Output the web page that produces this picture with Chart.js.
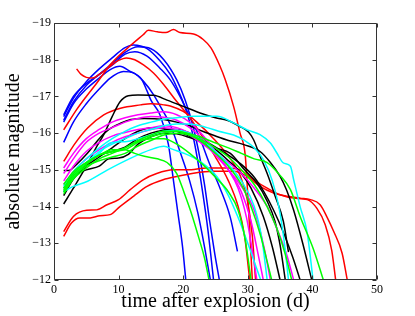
<!DOCTYPE html>
<html>
<head>
<meta charset="utf-8">
<script src="https://cdn.jsdelivr.net/npm/chart.js"></script>
<style>
    html, body { margin: 0; padding: 0; background: #ffffff; }
    #wrap { width: 415px; height: 316px; }
</style>
</head>
<body>
<div id="wrap"><canvas id="lightCurves" width="415" height="316"></canvas></div>
<script>
// light curves, each point is [days after explosion, absolute magnitude]
const blue1 = [[1.5,-16.45],[3,-16.95],[5,-17.4],[7,-17.75],[9,-18.05],[11,-18.33],[12.3,-18.4],[14.4,-18.3],[16.4,-17.97],[18,-17.6],[19,-17.25],[20.3,-16.7],[21.3,-16.1],[22.2,-15.3],[23,-14.4],[23.8,-13.4],[24.7,-12.0]];
const blue2 = [[1.5,-16.5],[3,-17.0],[5,-17.35],[7,-17.6],[9,-17.9],[11,-18.2],[13,-18.35],[15,-18.3],[17,-18.0],[19,-17.45],[20.3,-16.9],[21.5,-16.2],[22.5,-15.4],[23.3,-14.6],[24.1,-13.6],[24.9,-12.7],[25.6,-12.0]];
const blue3 = [[1.5,-16.35],[3,-16.85],[5,-17.3],[7,-17.6],[9,-17.85],[11,-18.15],[12.5,-18.22],[14.4,-18.1],[16.4,-17.77],[18,-17.45],[19.5,-17.0],[21,-16.45],[22.5,-15.9],[24,-15.2],[25.7,-14.5],[27.3,-13.7],[28.4,-12.78]];
const blue4 = [[1.5,-16.3],[3,-16.8],[5,-17.2],[7,-17.5],[8.7,-17.73],[10.2,-17.82],[11.8,-17.68],[12.8,-17.59],[13.6,-17.46],[14.4,-17.15],[15,-16.9],[16.4,-16.5],[17.7,-15.7],[18.5,-14.7],[19.2,-13.8],[19.9,-12.9],[20.4,-12.0]];
const blue5 = [[1.5,-15.75],[3,-16.3],[5,-16.8],[7,-17.2],[8.7,-17.5],[10.75,-17.68],[12.3,-17.64],[13.85,-17.41],[15.4,-17.05],[16.9,-16.59],[18,-16.23],[19.5,-15.5],[21,-14.7],[22.3,-13.8],[23.3,-12.9],[24.2,-12.0]];

const red1 = [[1.5,-16.09],[3.5,-16.64],[5,-17.0],[6.6,-17.36],[8.7,-17.86],[10,-18.1],[11.8,-18.38],[13.8,-18.68],[14.6,-18.8],[16,-18.76],[17.3,-18.74],[18.5,-18.82],[19.5,-18.74],[21.6,-18.7],[23.1,-18.55],[24.3,-18.32],[25.7,-17.82],[26.5,-17.46],[27.8,-16.73],[28.8,-16.0],[29.6,-15.4],[30.0,-14.3],[30.4,-13.0],[30.7,-12.0]];
const red2 = [[3.5,-17.75],[4.2,-17.6],[5,-17.52],[6,-17.5],[7,-17.6],[8.5,-17.8],[10,-17.98],[11.2,-18.05],[12.5,-18.0],[13.85,-17.86],[15.4,-17.64],[17,-17.32],[19,-16.86],[21.1,-16.41],[23,-15.9],[25,-15.35],[27,-14.7],[28.5,-14.0],[29.5,-13.2],[30.3,-12.0]];
const red3 = [[1.5,-15.23],[3.1,-15.68],[5.2,-16.14],[7.7,-16.5],[10.3,-16.68],[13.4,-16.77],[15,-16.8],[17,-16.77],[18,-16.74],[20,-16.59],[22.1,-16.3],[24.7,-15.85],[27.3,-15.3],[28.8,-14.85],[29.9,-14.2],[30.7,-13.2],[31.2,-12.0]];
const red4 = [[1.5,-13.32],[3,-13.73],[5.06,-13.9],[6.6,-13.91],[8.2,-14.05],[10,-14.19],[11.8,-14.46],[13.8,-14.73],[15.9,-14.9],[18.5,-15.0],[20.6,-15.0],[23.7,-15.05],[26.8,-15.05],[28.8,-15.0],[30.9,-14.73],[33,-14.5],[35,-14.32],[37.1,-14.23],[39.2,-14.19],[40.7,-13.95],[42,-13.5],[43,-12.8],[43.6,-12.0]];
const red5 = [[1.5,-13.19],[2.7,-13.55],[4,-13.69],[5.6,-13.69],[7.1,-13.75],[8.7,-13.78],[10.2,-14.0],[12.3,-14.28],[14.4,-14.55],[16.9,-14.73],[19,-14.82],[21.6,-14.91],[24.7,-14.96],[27.8,-14.96],[29.9,-14.82],[31.9,-14.55],[34,-14.37],[36.1,-14.28],[38.1,-14.23],[39.7,-14.19],[41.2,-14.05],[42.3,-13.7],[43.3,-13.32],[44.6,-12.73],[45.4,-12.0]];

const black1 = [[1.5,-14.07],[3,-14.5],[5,-15.1],[6.5,-15.6],[7.7,-15.96],[9,-16.45],[10.2,-16.85],[11.5,-17.02],[13,-17.04],[15.4,-17.03],[17.5,-16.9],[20,-16.73],[22.6,-16.55],[25,-16.42],[26.8,-16.35],[28.8,-16.18],[30.1,-16.03],[30.9,-15.82],[31.9,-15.37],[33,-14.9],[34.2,-14.3],[35.5,-13.6],[36.3,-12.76]];
const black2 = [[1.5,-14.98],[2.3,-14.98],[3.5,-15.15],[5.2,-15.46],[7,-15.85],[8.5,-16.1],[10.3,-16.27],[11.9,-16.37],[14,-16.4],[17,-16.37],[19,-16.3],[21,-16.2],[23,-16.05],[25,-15.92],[27,-15.8],[29.5,-15.68],[31.9,-15.5],[33.5,-15.2],[35,-14.82],[36,-14.45],[37.1,-13.9],[38.5,-13.0],[39.9,-12.0]];
const black3 = [[1.5,-14.3],[3,-14.75],[5,-15.1],[7,-15.35],[9,-15.6],[11,-15.85],[13,-16.05],[15,-16.15],[17,-16.12],[19,-16.05],[21,-15.92],[23,-15.75],[25,-15.55],[27,-15.25],[29,-14.9],[30.5,-14.5],[32.4,-13.73],[33.8,-12.9],[35,-12.0]];
const black4 = [[1.5,-14.4],[3,-14.8],[5,-15.15],[7,-15.4],[9,-15.5],[11,-15.62],[13,-15.85],[15,-16.0],[17,-16.08],[19,-16.1],[21,-16.0],[23,-15.82],[25,-15.62],[27,-15.4],[29,-15.15],[31,-14.8],[32.5,-14.4],[34,-13.9],[35.5,-13.3],[37,-12.6],[38.1,-12.0]];
const black5 = [[1.5,-14.5],[3,-14.85],[5,-15.0],[7,-15.1],[8.5,-15.3],[10,-15.32],[11.5,-15.42],[13,-15.7],[15,-15.9],[17,-16.0],[19,-15.98],[21,-15.88],[23,-15.75],[25,-15.6],[27.3,-15.45],[29.5,-15.0],[31.4,-14.64],[33,-14.15],[34.2,-13.6],[35,-12.95],[35.8,-12.0]];

const magenta1 = [[1.5,-15.05],[3,-15.45],[5,-15.85],[7,-16.1],[9,-16.3],[11,-16.42],[13,-16.5],[15,-16.55],[17,-16.58],[19,-16.5],[21,-16.3],[23,-15.95],[25,-15.5],[27,-15.0],[28.5,-14.5],[29.8,-13.7],[30.7,-12.8],[31.4,-12.0]];
const magenta2 = [[1.5,-14.9],[3,-15.3],[5,-15.75],[7,-16.0],[9,-16.15],[11,-16.3],[13,-16.4],[15,-16.45],[17,-16.43],[19,-16.35],[21,-16.15],[23,-15.85],[25,-15.45],[27,-15.0],[29,-14.4],[30.5,-13.6],[31.6,-12.7],[32.4,-12.0]];
const magenta3 = [[1.5,-14.7],[3,-15.1],[5,-15.5],[7,-15.75],[9,-15.92],[11,-16.02],[13,-16.1],[15,-16.15],[17,-16.2],[19,-16.15],[21,-16.0],[23,-15.75],[25,-15.4],[27,-15.0],[29,-14.55],[31,-13.9],[32.5,-12.9],[33.5,-12.0]];
const magenta4 = [[1.5,-14.6],[3,-14.95],[5,-15.3],[7,-15.55],[9,-15.75],[11,-15.9],[13,-16.0],[15,-16.1],[17,-16.15],[19,-16.1],[21,-15.95],[23,-15.7],[25,-15.45],[27,-15.2],[29,-14.9],[31,-14.5],[33,-14.0],[34.5,-13.4],[36,-12.7],[37.1,-12.0]];

const cyan1 = [[1.5,-14.55],[3,-14.95],[5,-15.3],[7,-15.6],[9,-15.85],[11,-16.05],[13,-16.2],[15,-16.3],[17,-16.38],[19,-16.42],[21.6,-16.46],[25.2,-16.46],[27.8,-16.28],[29.9,-16.09],[31.9,-15.96],[33.5,-15.73],[34.5,-15.46],[35.5,-15.19],[36.6,-15.1],[37.1,-14.73],[38.1,-14.0],[39.2,-13.28],[40.1,-12.0]];
const cyan2 = [[1.5,-14.4],[3,-14.8],[5,-15.2],[7,-15.5],[9,-15.7],[11,-15.85],[13,-16.0],[15,-16.1],[17,-16.2],[19,-16.25],[21,-16.25],[23.7,-16.15],[25.5,-16.05],[27.8,-15.95],[29.5,-15.8],[31,-15.6],[32.5,-15.25],[33.8,-14.7],[34.8,-14.0],[35.6,-13.1],[36.3,-12.0]];
const cyan3 = [[1.5,-14.41],[3,-14.55],[5.2,-14.69],[8.3,-15.0],[11.9,-15.32],[15,-15.55],[17,-15.64],[18.5,-15.55],[20,-15.46],[22.6,-15.23],[25.2,-14.82],[27,-14.3],[28.5,-13.7],[30,-13.0],[31,-12.5],[32,-12.0]];
const cyan4 = [[1.5,-14.5],[3,-14.9],[5,-15.2],[7,-15.45],[8.7,-15.73],[11.3,-15.77],[13,-15.85],[15,-15.95],[17,-16.05],[19,-16.08],[21,-16.0],[23,-15.8],[25,-15.5],[27,-15.15],[29,-14.7],[31,-14.0],[32.2,-13.1],[33,-12.0]];

const green1 = [[1.5,-14.45],[3,-14.85],[5,-15.15],[7,-15.4],[9,-15.55],[11,-15.55],[12.5,-15.45],[14,-15.37],[16,-15.3],[17.5,-15.2],[19,-14.9],[20.2,-14.35],[21.3,-13.8],[22.5,-13.1],[23.3,-12.6],[24.0,-12.0]];
const green2 = [[1.5,-14.6],[3,-14.95],[5,-15.2],[7,-15.4],[9,-15.5],[11,-15.6],[13,-15.78],[15,-15.85],[17,-15.85],[19,-15.7],[21,-15.45],[23,-15.15],[25,-14.8],[27,-14.4],[28.5,-13.9],[29.6,-13.1],[30.5,-12.0]];
const green3 = [[1.5,-14.5],[3,-14.9],[5,-15.2],[7,-15.4],[9,-15.5],[11,-15.55],[13,-15.75],[15,-15.9],[17,-16.0],[19,-16.05],[20.6,-16.0],[22.6,-15.9],[24.7,-15.75],[27,-15.6],[29,-15.45],[31,-15.3],[33,-15.2],[35,-14.85],[36.6,-14.46],[38.1,-13.73],[40.2,-12.82],[41.7,-12.0]];
const green4 = [[1.5,-14.35],[3,-14.75],[5,-15.05],[7,-15.3],[9,-15.45],[11,-15.6],[13,-15.8],[15,-15.95],[17,-16.05],[19,-16.05],[21,-15.95],[23,-15.8],[25,-15.6],[27,-15.35],[29,-15.0],[31,-14.6],[33,-14.0],[34.5,-13.4],[35.8,-12.7],[36.8,-12.0]];
const green5 = [[1.5,-14.4],[3,-14.8],[5,-15.1],[7,-15.25],[9,-15.35],[11,-15.45],[13,-15.65],[15,-15.8],[17,-15.95],[19,-16.0],[21,-15.95],[23,-15.75],[25,-15.45],[27,-15.1],[29,-14.6],[30.5,-14.0],[32,-13.2],[33,-12.5],[33.7,-12.0]];

const xTicks = [0, 10, 20, 30, 40, 50];
const yTicks = [-19, -18, -17, -16, -15, -14, -13, -12];

const lineColors = {
    red: '#ff0000',
    blue: '#0000ff',
    black: '#000000',
    magenta: '#ff00ff',
    cyan: '#00ffff',
    green: '#00ff00'
};

const curves = [
    [green1, 'green'], [green2, 'green'], [green3, 'green'], [green4, 'green'], [green5, 'green'],
    [cyan1, 'cyan'], [cyan2, 'cyan'], [cyan3, 'cyan'], [cyan4, 'cyan'],
    [magenta1, 'magenta'], [magenta2, 'magenta'], [magenta3, 'magenta'], [magenta4, 'magenta'],
    [black1, 'black'], [black2, 'black'], [black3, 'black'], [black4, 'black'], [black5, 'black'],
    [red1, 'red'], [red2, 'red'], [red3, 'red'], [red4, 'red'], [red5, 'red'],
    [blue1, 'blue'], [blue2, 'blue'], [blue3, 'blue'], [blue4, 'blue'], [blue5, 'blue']
];

const serif = "'Liberation Serif', 'Times New Roman', serif";

// matlab style box with inward ticks on all four sides
const boxFrame = {
    id: 'boxFrame',
    afterDraw(chart) {
        const { ctx, chartArea: a, scales: { x, y } } = chart;
        const l = Math.round(a.left) + 0.5, r = Math.round(a.right) - 0.5;
        const t = Math.round(a.top) + 0.5, b = Math.round(a.bottom) - 0.5;
        const len = 4;
        ctx.save();
        ctx.strokeStyle = '#333333';
        ctx.lineWidth = 1;
        ctx.beginPath();
        ctx.rect(l, t, r - l, b - t);
        x.ticks.forEach(tk => {
            const px = Math.round(x.getPixelForValue(tk.value)) + 0.5;
            ctx.moveTo(px, b); ctx.lineTo(px, b - len);
            ctx.moveTo(px, t); ctx.lineTo(px, t + len);
        });
        y.ticks.forEach(tk => {
            const py = Math.round(y.getPixelForValue(tk.value)) + 0.5;
            ctx.moveTo(l, py); ctx.lineTo(l + len, py);
            ctx.moveTo(r, py); ctx.lineTo(r - len, py);
        });
        ctx.stroke();
        ctx.restore();
    }
};

new Chart(document.getElementById('lightCurves'), {
    type: 'line',
    data: {
        datasets: curves.map(([pts, col]) => ({
            data: pts.map(p => ({ x: p[0], y: p[1] })),
            borderColor: lineColors[col],
            borderWidth: 1.5,
            pointRadius: 0,
            fill: false,
            cubicInterpolationMode: 'monotone'
        }))
    },
    options: {
        responsive: false,
        devicePixelRatio: 1,
        animation: false,
        layout: { padding: { top: 23, right: 38, left: 0, bottom: 0 } },
        plugins: {
            legend: { display: false },
            tooltip: { enabled: false }
        },
        scales: {
            x: {
                type: 'linear',
                min: 0,
                max: 50,
                afterBuildTicks: s => { s.ticks = xTicks.map(v => ({ value: v })); },
                afterFit: s => { s.height = 36; },
                grid: { display: false, drawTicks: false },
                border: { display: false },
                ticks: { color: '#000', padding: 3, maxRotation: 0, font: { family: serif, size: 12 } },
                title: {
                    display: true,
                    text: 'time after explosion (d)',
                    color: '#000',
                    font: { family: serif, size: 20, lineHeight: 1 },
                    padding: { top: 0, bottom: 4 }
                }
            },
            y: {
                type: 'linear',
                reverse: true,
                min: -19,
                max: -12,
                afterBuildTicks: s => { s.ticks = yTicks.map(v => ({ value: v })); },
                afterFit: s => { s.width = 54; },
                grid: { display: false, drawTicks: false },
                border: { display: false },
                ticks: {
                    color: '#000',
                    padding: 3,
                    font: { family: serif, size: 12 },
                    callback: v => String(v).replace('-', '\u2212')
                },
                title: {
                    display: true,
                    text: 'absolute magnitude',
                    color: '#000',
                    font: { family: serif, size: 20, lineHeight: 1 },
                    padding: { top: 4, bottom: 0 }
                }
            }
        }
    },
    plugins: [boxFrame]
});
</script>
</body>
</html>
